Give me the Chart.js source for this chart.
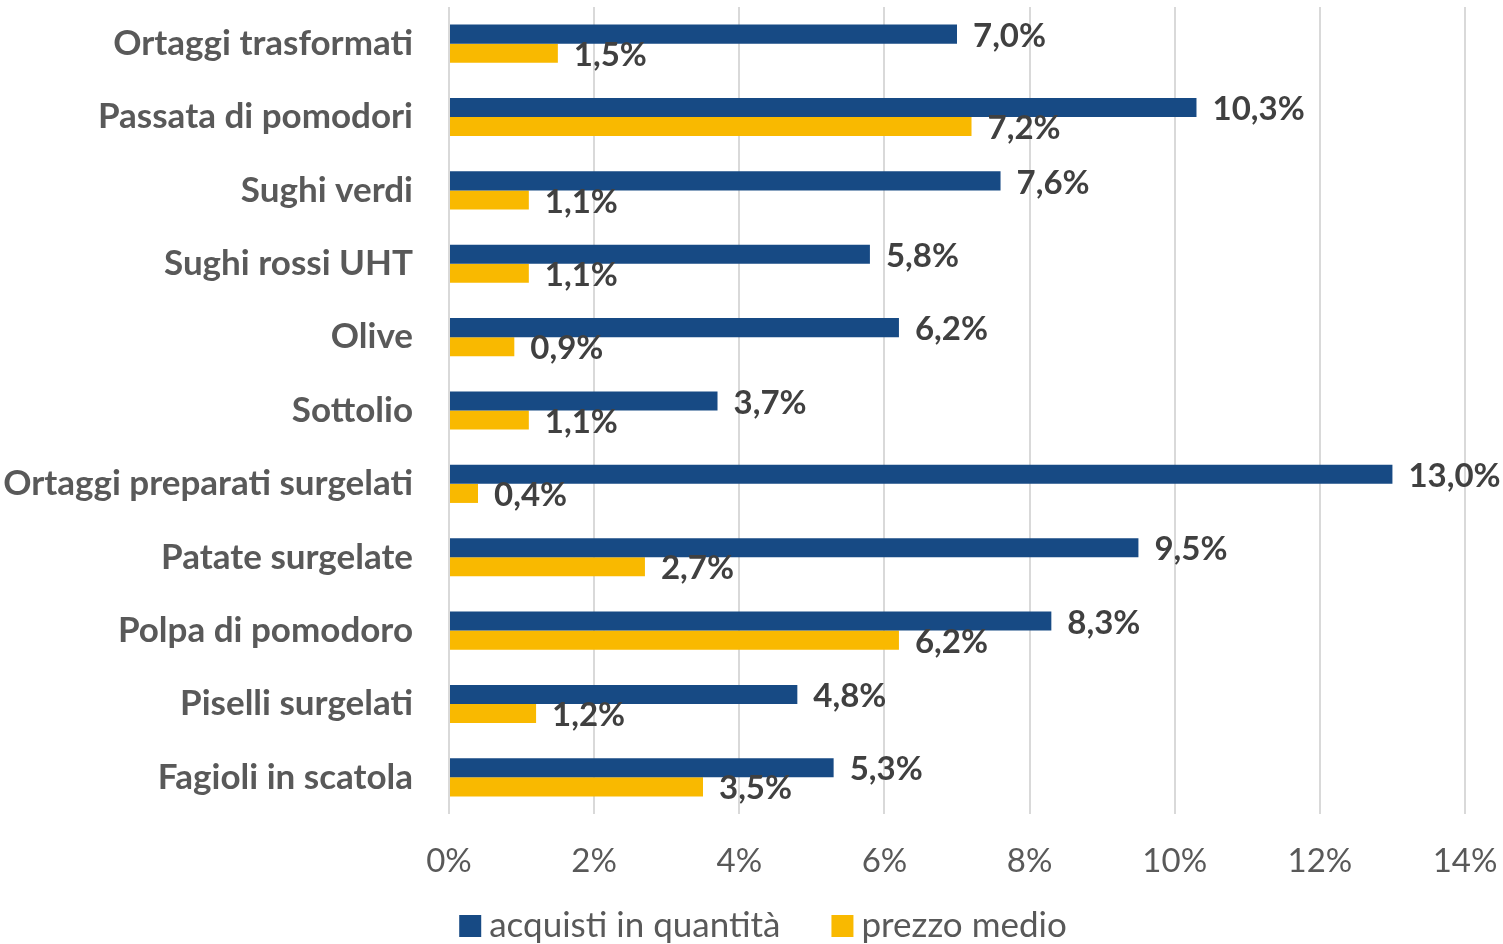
<!DOCTYPE html>
<html>
<head>
<meta charset="utf-8">
<script src="https://cdn.jsdelivr.net/npm/chart.js@4/dist/chart.umd.min.js"></script>
<style>
  html, body { margin: 0; padding: 0; background: #fff; }
  #wrap { width: 1503px; height: 944px; }
</style>
</head>
<body>
<div id="wrap"><canvas id="chart"></canvas></div>
<script>
// categories and values
const categories = [
  'Ortaggi trasformati', 'Passata di pomodori', 'Sughi verdi', 'Sughi rossi UHT',
  'Olive', 'Sottolio', 'Ortaggi preparati surgelati', 'Patate surgelate',
  'Polpa di pomodoro', 'Piselli surgelati', 'Fagioli in scatola'
];
const acquistiQuantita = [7.0, 10.3, 7.6, 5.8, 6.2, 3.7, 13.0, 9.5, 8.3, 4.8, 5.3];
const prezzoMedio = [1.5, 7.2, 1.1, 1.1, 0.9, 1.1, 0.4, 2.7, 6.2, 1.2, 3.5];
const seriesNames = ['acquisti in quantità', 'prezzo medio'];
const seriesColors = ['#174A84', '#F9B900'];

const FONT = 'Lato, "Open Sans", sans-serif';
const textColor = '#595959';

// value labels at the end of each bar
const barLabels = {
  id: 'barLabels',
  afterDatasetsDraw(chart) {
    const ctx = chart.ctx;
    ctx.save();
    ctx.font = 'bold 33px ' + FONT;
    ctx.fillStyle = '#404040';
    ctx.textBaseline = 'middle';
    ctx.textAlign = 'left';
    chart.data.datasets.forEach((ds, i) => {
      chart.getDatasetMeta(i).data.forEach((el, j) => {
        const txt = ds.data[j].toFixed(1).replace('.', ',') + '%';
        ctx.fillText(txt, el.x + 16, el.y + 2);
      });
    });
    ctx.restore();
  }
};

// legend drawn by hand so the box/text spacing matches the original
const bottomLegend = {
  id: 'bottomLegend',
  afterDraw(chart) {
    const ctx = chart.ctx;
    ctx.save();
    ctx.font = '35px ' + FONT;
    ctx.textBaseline = 'middle';
    ctx.textAlign = 'left';
    const box = 22, gapText = 8, gapItem = 51;
    const ds = chart.data.datasets;
    const widths = ds.map(d => ctx.measureText(d.label).width);
    const total = widths.reduce((a, w) => a + box + gapText + w, 0) + gapItem * (ds.length - 1);
    let x = 763 - total / 2;
    const y = chart.height - 18;
    ds.forEach((d, i) => {
      ctx.fillStyle = d.backgroundColor;
      ctx.fillRect(x, y - box / 2, box, box);
      x += box + gapText;
      ctx.fillStyle = textColor;
      ctx.fillText(d.label, x, y);
      x += widths[i] + gapItem;
    });
    ctx.restore();
  }
};

new Chart(document.getElementById('chart'), {
  type: 'bar',
  data: {
    labels: categories,
    datasets: [
      { label: seriesNames[0], data: acquistiQuantita, backgroundColor: seriesColors[0] },
      { label: seriesNames[1], data: prezzoMedio, backgroundColor: seriesColors[1] }
    ]
  },
  options: {
    indexAxis: 'y',
    responsive: true,
    maintainAspectRatio: false,
    animation: false,
    categoryPercentage: 0.52,
    barPercentage: 1.0,
    layout: { padding: { left: 0, right: 38, top: 7, bottom: 62 } },
    plugins: {
      legend: { display: false },
      tooltip: { enabled: false }
    },
    scales: {
      x: {
        min: 0,
        max: 14,
        ticks: {
          stepSize: 2,
          color: textColor,
          padding: 28,
          font: { family: FONT, size: 33 },
          callback: (v) => v + '%'
        },
        grid: { color: '#d9d9d9', lineWidth: 2, drawTicks: false },
        border: { display: false },
        afterFit: (axis) => {
          axis.height = 68;
          axis.paddingLeft = 0;
          axis.paddingRight = 0;
        }
      },
      y: {
        ticks: {
          color: textColor,
          padding: 28,
          font: { family: FONT, size: 35, weight: 'bold' }
        },
        grid: { display: false },
        border: { display: false },
        afterFit: (axis) => {
          axis.width = 449;
          axis.paddingTop = 0;
          axis.paddingBottom = 0;
        }
      }
    }
  },
  plugins: [barLabels, bottomLegend]
});
</script>
</body>
</html>
